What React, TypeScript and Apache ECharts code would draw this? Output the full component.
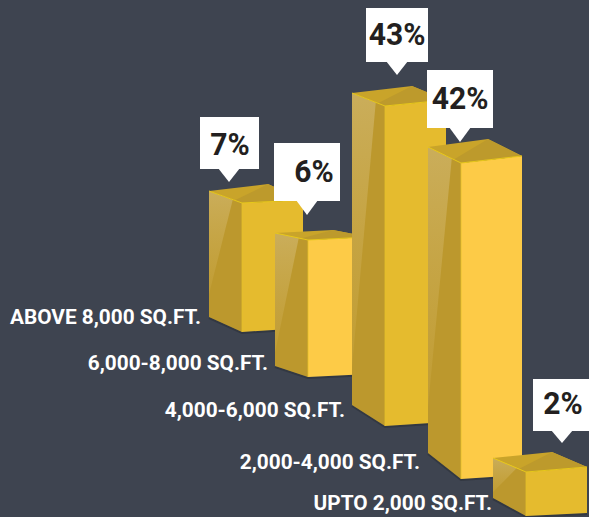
import React, { useEffect, useRef } from "react";
import * as echarts from "echarts";

const categories = [
  "ABOVE 8,000 SQ.FT.",
  "6,000-8,000 SQ.FT.",
  "4,000-6,000 SQ.FT.",
  "2,000-4,000 SQ.FT.",
  "UPTO 2,000 SQ.FT.",
];
const percentages = [7, 6, 43, 42, 2];
// Drawn height of each column's front edge (the original is not to scale).
const barHeights = [129, 137, 320, 316, 44];

const BG = "#3e4450";
const FRONT = ["#e5bb2e", "#fdcb47", "#e5bb2e", "#fdcb47", "#e5bb2e"];
const W_LEFT = 33;
const W_RIGHT = 61;

// Per-column drawing geometry, in pixels.
const geometry = [
  { dx: 0, base: 332, dropB: 15, dropT: 12, riseB: 4, riseT: 3, back: [26, -19], hi: 0.82 },
  { dx: -5, base: 377, dropB: 11, dropT: 7, riseB: 3, riseT: 3, back: [25, -10], hi: 0.9 },
  { dx: 1, base: 426, dropB: 21, dropT: 13, riseB: 4, riseT: 6, back: [27, -20], hi: 0.88 },
  { dx: 6, base: 479, dropB: 26, dropT: 16, riseB: 4, riseT: 7, back: [27, -24], hi: 0.85 },
  { dx: 0, base: 516, dropB: 18, dropT: 14, riseB: 3, riseT: 5, back: [26, -20], hi: 0.85 },
];
const callouts = [
  { x: 200, y: 117, w: 59, h: 52, tip: [229, 182], tx: 230, ty: 144 },
  { x: 274, y: 143, w: 66, h: 58, tip: [307, 215], tx: 314, ty: 171 },
  { x: 366, y: 8, w: 62, h: 54, tip: [397, 75], tx: 397, ty: 34 },
  { x: 427, y: 70, w: 66, h: 58, tip: [460, 142], tx: 460, ty: 98 },
  { x: 533, y: 379, w: 56, h: 52, tip: [562, 443], tx: 563, ty: 403 },
];
const labelAnchors = [
  [201, 317],
  [268, 363],
  [345, 410],
  [420, 462],
  [492, 503],
];

const lerp = (a: number[], b: number[], t: number) => [a[0] + (b[0] - a[0]) * t, a[1] + (b[1] - a[1]) * t];

function renderItem(params: any, api: any) {
  const i = api.value(0);
  const g = geometry[i];
  const h = api.size([0, api.value(1)])[1];
  const fx = api.coord([i, 0])[0] + g.dx;
  const fb = [fx, g.base];
  const ft = [fx, g.base - h];
  const lb = [fx - W_LEFT, g.base - g.dropB];
  const lt = [fx - W_LEFT, ft[1] - g.dropT];
  const rb = [fx + W_RIGHT, g.base - g.riseB];
  const rt = [fx + W_RIGHT, ft[1] - g.riseT];
  const bk = [fx + g.back[0], ft[1] + g.back[1]];
  const mid = lerp(lt, ft, 0.78);
  const hiTop = lerp(lt, ft, 0.72);
  const hiBot = lerp(lt, lb, g.hi);
  const c = callouts[i];
  const poly = (points: number[][], style: any) => ({ type: "polygon", shape: { points }, style });
  const line = (points: number[][], stroke: string, lineWidth = 1, opacity = 1) => ({
    type: "polyline",
    shape: { points },
    style: { stroke, lineWidth, opacity, fill: "none" },
  });
  return {
    type: "group",
    children: [
      line([[lb[0], lb[1] + 1], [fb[0], fb[1] + 1], [rb[0], rb[1] + 1]], "#2c3038", 2, 0.6),
      poly([lt, ft, fb, lb], { fill: "#bc982d" }),
      poly([lt, hiTop, hiBot], {
        fill: new echarts.graphic.LinearGradient(0, 0, 0, 1, [
          { offset: 0, color: "rgba(210,185,115,0.65)" },
          { offset: 1, color: "rgba(205,170,70,0.3)" },
        ]),
      }),
      poly([ft, rt, rb, fb], { fill: FRONT[i] }),
      poly([lt, ft, rt, bk], { fill: "#c9a42a" }),
      poly([mid, ft, rt, bk], { fill: "#bd9a2c" }),
      line([lt, ft, rt], "#e8c81a", 1),
      line([ft, fb], "#e3bf28", 1, 0.8),
      poly([[c.tip[0] - 11, c.y + c.h - 1], [c.tip[0] + 11, c.y + c.h - 1], c.tip], { fill: "#ffffff" }),
      { type: "rect", shape: { x: c.x, y: c.y, width: c.w, height: c.h }, style: { fill: "#ffffff" } },
      {
        type: "text",
        x: c.tx,
        y: c.ty,
        scaleX: 0.94,
        style: {
          text: percentages[i] + "%",
          fill: "#231f20",
          font: "bold 32px Roboto",
          textAlign: "center",
          textVerticalAlign: "middle",
        },
      },
      {
        type: "text",
        style: {
          text: categories[i],
          x: labelAnchors[i][0],
          y: labelAnchors[i][1],
          fill: "#ffffff",
          font: "bold 20.8px Roboto",
          textAlign: "right",
          textVerticalAlign: "middle",
        },
      },
    ],
  };
}

export default function App() {
  const ref = useRef<HTMLDivElement>(null);
  useEffect(() => {
    const chart = echarts.init(ref.current!, undefined, { renderer: "svg" });
    chart.setOption({
      animation: false,
      backgroundColor: BG,
      grid: { left: 206.5, right: 27.5, top: 0, bottom: 0 },
      xAxis: { type: "category", data: categories, show: false },
      yAxis: { type: "value", min: 0, max: 517, show: false },
      series: [
        {
          type: "custom",
          clip: false,
          renderItem,
          encode: { x: 0, y: 1 },
          data: barHeights.map((v, i) => [i, v]),
        },
      ],
    });
    return () => chart.dispose();
  }, []);
  return <div ref={ref} style={{ position: "absolute", left: 0, top: 0, width: 589, height: 517 }} />;
}
